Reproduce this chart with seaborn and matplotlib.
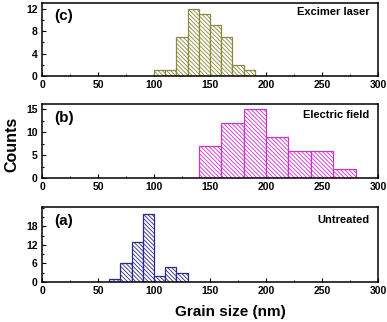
import matplotlib
matplotlib.use("Agg")
import matplotlib.pyplot as plt
import seaborn as sns
import numpy as np
import pandas as pd
from matplotlib.ticker import MultipleLocator

sns.set_style("white")
plt.rcParams['font.family'] = ['Liberation Sans', 'DejaVu Sans']
plt.rcParams['font.weight'] = 'bold'
plt.rcParams['hatch.linewidth'] = 0.6
plt.rcParams['text.color'] = 'black'

# Panel (c) Excimer laser
c_edges = [100, 110, 120, 130, 140, 150, 160, 170, 180, 190]
c_counts = [1, 1, 7, 12, 11, 9, 7, 2, 1]
# Panel (b) Electric field
b_edges = [140, 160, 180, 200, 220, 240, 260, 280]
b_counts = [7, 12, 15, 9, 6, 6, 2]
# Panel (a) Untreated
a_edges = [60, 70, 80, 90, 100, 110, 120, 130]
a_counts = [1, 6, 13, 22, 2, 5, 3]

panels = [
    ("(c)", "Excimer laser", c_edges, c_counts, "#8a8a3c", [0, 4, 8, 12], 2, 13, 0.82, 0.88),
    ("(b)", "Electric field", b_edges, b_counts, "#cc33cc", [0, 5, 10, 15], 2.5, 16.2, 0.81, 0.85),
    ("(a)", "Untreated", a_edges, a_counts, "#2a2a8a", [0, 6, 12, 18], 3, 24.3, 0.82, 0.83),
]

fig = plt.figure(figsize=(3.87, 3.22), dpi=100)
rects = [
    [42/387, 1-76/322, 336/387, 73/322],
    [42/387, 1-178/322, 336/387, 74/322],
    [42/387, 1-282/322, 336/387, 75/322],
]

for rect, (lab, name, edges, counts, col, yt, ymin, ytop, ly, ny) in zip(rects, panels):
    ax = fig.add_axes(rect)
    e = np.array(edges, dtype=float)
    df = pd.DataFrame({"size": (e[:-1] + e[1:]) / 2, "count": counts})
    sns.histplot(data=df, x="size", weights="count", bins=list(edges), ax=ax,
                 facecolor="white", edgecolor=col, hatch="\\" * 8,
                 linewidth=0.9, alpha=1)
    ax.set_xlim(0, 300)
    ax.set_ylim(0, ytop)
    ax.set_xticks([0, 50, 100, 150, 200, 250, 300])
    ax.xaxis.set_minor_locator(MultipleLocator(25))
    ax.set_yticks(yt)
    ax.yaxis.set_minor_locator(MultipleLocator(ymin))
    ax.tick_params(which='both', direction='in', bottom=True, left=True,
                   top=False, right=False, labelsize=7.5, width=0.8,
                   colors='black', pad=3)
    ax.tick_params(which='major', length=3)
    ax.tick_params(which='minor', length=1.5)
    for t in ax.get_xticklabels() + ax.get_yticklabels():
        t.set_fontweight('bold')
    for s in ax.spines.values():
        s.set_color('black')
        s.set_linewidth(1.1)
    ax.set_xlabel("")
    ax.set_ylabel("")
    ax.text(0.035, ly, lab, transform=ax.transAxes, fontsize=11,
            fontweight='bold', va='center', ha='left', color='black')
    ax.text(0.975, ny, name, transform=ax.transAxes, fontsize=8,
            fontweight='bold', va='center', ha='right', color='black')

fig.text(12/387, 1-144/322, "Counts", rotation=90, fontsize=11.5,
         fontweight='bold', ha='center', va='center', color='black')
fig.text(230/387, 1-312/322, "Grain size (nm)", fontsize=11,
         fontweight='bold', ha='center', va='center', color='black')

fig.savefig("out.png", dpi=100)
